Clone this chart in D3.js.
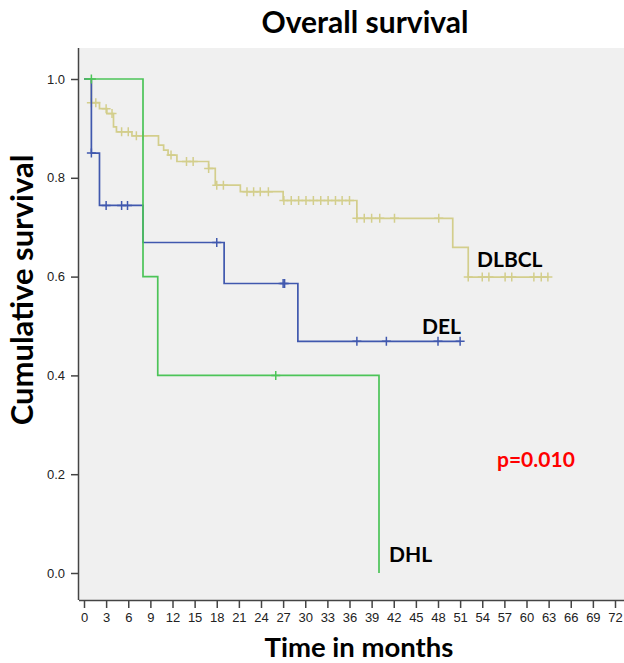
<!DOCTYPE html>
<html>
  <head>
    <meta charset="utf-8" />
    <title>Overall survival</title>
    <script src="https://cdn.jsdelivr.net/npm/d3@7/dist/d3.min.js"></script>
    <style>
      body { margin: 0; background: #fff; }
      svg { display: block; }
    </style>
  </head>
  <body>
    <div id="canvas"></div>
  </body>
  <script>
    // Kaplan-Meier curves (months, survival after each event)
    const groups = ["DLBCL", "DEL", "DHL"];

    const dlbclEventTimes = [1, 2.1, 3.1, 4, 4.4, 6.5, 10.1, 10.8, 11.4, 12.6, 16.9, 17.8, 21.2, 27, 37, 50, 52.1];
    const dlbclSurvival = [0.952, 0.94, 0.93, 0.903, 0.893, 0.885, 0.866, 0.856, 0.846, 0.833, 0.819, 0.785, 0.772, 0.754, 0.718, 0.659, 0.599];
    const dlbclCensored = [1, 1.6, 3, 3.8, 5.1, 6, 7.1, 8, 11.8, 13.9, 14.8, 16.9, 18, 18.9, 22.1, 23, 23.9, 25,
      27.1, 28.1, 29.1, 30.1, 31.1, 32.1, 33.1, 34.1, 35, 36, 37, 38, 39, 40.1, 42.1, 48.1,
      52.1, 54, 54.9, 57.1, 58, 61, 62, 62.9];
    const dlbclLastTime = 63;

    const delEventTimes = [1, 2.1, 8, 19, 29];
    const delSurvival = [0.85, 0.744, 0.669, 0.586, 0.469];
    const delCensored = [1, 3, 5.1, 5.9, 18, 27, 27.2, 37, 41, 48, 51];
    const delLastTime = 51;

    const dhlEventTimes = [8, 10, 40];
    const dhlSurvival = [0.6, 0.4, 0.0];
    const dhlCensored = [1, 26];
    const dhlLastTime = 40;

    const xTickValues = [0, 3, 6, 9, 12, 15, 18, 21, 24, 27, 30, 33, 36, 39, 42, 45, 48, 51, 54, 57, 60, 63, 66, 69, 72];
    const yTickValues = [0, 0.2, 0.4, 0.6, 0.8, 1.0];

    const curves = [
      { name: "DLBCL", times: dlbclEventTimes, surv: dlbclSurvival, cens: dlbclCensored, last: dlbclLastTime, color: "#d3ce8c" },
      { name: "DEL", times: delEventTimes, surv: delSurvival, cens: delCensored, last: delLastTime, color: "#4058ae" },
      { name: "DHL", times: dhlEventTimes, surv: dhlSurvival, cens: dhlCensored, last: dhlLastTime, color: "#4cc458" },
    ];

    const width = 624;
    const height = 663;

    const svg = d3.select("#canvas")
      .append("svg")
      .attr("width", width)
      .attr("height", height);

    // plot background
    svg.append("rect")
      .attr("x", 79)
      .attr("y", 48)
      .attr("width", width - 79)
      .attr("height", 600 - 48)
      .attr("fill", "#f0f0f0");

    const x = d3.scaleLinear().domain([0, 72]).range([84, 615]);
    const y = d3.scaleLinear().domain([0, 1]).range([573, 79]);

    // step value at time t (censor marks sit on the curve)
    function survAt(c, t) {
      let s = 1;
      c.times.forEach((tt, i) => { if (tt <= t) s = c.surv[i]; });
      return s;
    }

    const line = d3.line()
      .x((d) => x(d[0]))
      .y((d) => y(d[1]))
      .curve(d3.curveStepAfter);

    curves.forEach((c) => {
      const pts = [[0, 1]].concat(c.times.map((t, i) => [t, c.surv[i]]));
      pts.push([c.last, c.surv[c.surv.length - 1]]);

      const g = svg.append("g").attr("stroke", c.color).attr("fill", "none");
      g.append("path")
        .attr("d", line(pts))
        .attr("stroke-width", 1.7);

      // censor "+" marks
      g.selectAll(null)
        .data(c.cens)
        .join("path")
        .attr("stroke-width", 1.5)
        .attr("d", (t) => {
          const cx = x(t), cy = y(survAt(c, t));
          return `M${cx - 4.5},${cy}H${cx + 4.5}M${cx},${cy - 4.5}V${cy + 4.5}`;
        });
    });

    // axes
    const xAxis = svg.append("g")
      .attr("transform", "translate(0,600)")
      .call(d3.axisBottom(x).tickValues(xTickValues).tickSize(8).tickPadding(5).tickSizeOuter(0));
    xAxis.select(".domain").attr("d", `M79,0.5H${width}`);

    const yAxis = svg.append("g")
      .attr("transform", "translate(79,0)")
      .call(d3.axisLeft(y).tickValues(yTickValues).tickFormat(d3.format(".1f")).tickSize(8).tickPadding(6).tickSizeOuter(0));
    yAxis.select(".domain").attr("d", "M-0.5,48V600");

    svg.selectAll(".tick text")
      .attr("font-family", "'Liberation Sans', Arial, sans-serif")
      .attr("font-size", 13)
      .attr("fill", "#222");
    svg.selectAll(".domain, .tick line").attr("stroke", "#444").attr("stroke-width", 1.5);

    const bold = "Lato, 'Open Sans', sans-serif";

    svg.append("text")
      .attr("x", 365)
      .attr("y", 33)
      .attr("text-anchor", "middle")
      .attr("font-family", bold)
      .attr("font-weight", "bold")
      .attr("font-size", 30)
      .text("Overall survival");

    svg.append("text")
      .attr("transform", "translate(33,290) rotate(-90)")
      .attr("text-anchor", "middle")
      .attr("font-family", bold)
      .attr("font-weight", "bold")
      .attr("font-size", 31)
      .text("Cumulative survival");

    svg.append("text")
      .attr("x", 359)
      .attr("y", 657)
      .attr("text-anchor", "middle")
      .attr("font-family", bold)
      .attr("font-weight", "bold")
      .attr("font-size", 27.5)
      .text("Time in months");

    // curve labels
    const labels = [
      { text: "DLBCL", x: 477, y: 267 },
      { text: "DEL", x: 422, y: 334 },
      { text: "DHL", x: 389, y: 562 },
    ];
    svg.append("g")
      .selectAll("text")
      .data(labels)
      .join("text")
      .attr("x", (d) => d.x)
      .attr("y", (d) => d.y)
      .attr("font-family", bold)
      .attr("font-weight", "bold")
      .attr("font-size", 21)
      .text((d) => d.text);

    svg.append("text")
      .attr("x", 497)
      .attr("y", 467)
      .attr("font-family", bold)
      .attr("font-weight", "bold")
      .attr("font-size", 21)
      .attr("fill", "#ff0000")
      .text("p=0.010");
  </script>
</html>
